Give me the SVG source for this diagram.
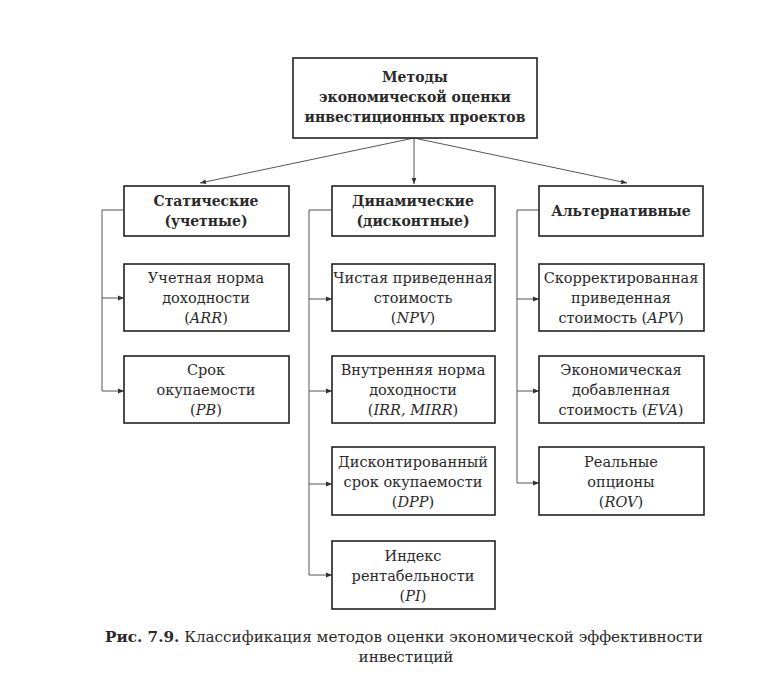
<svg xmlns="http://www.w3.org/2000/svg" width="778" height="678" viewBox="0 0 778 678">
<style>
.box{fill:#fff;stroke:#222;stroke-width:1.6}
.t{font-family:"DejaVu Serif","Liberation Serif",serif;font-size:14.5px;fill:#2a2a2a;text-anchor:middle}
.b{font-weight:bold;font-size:14px}
.i{font-style:italic}
.cap{font-size:15.2px}
.c{fill:none;stroke:#555;stroke-width:1}
</style>
<defs>
<marker id="ah" viewBox="0 0 10 10" refX="10" refY="5" markerWidth="8" markerHeight="6" markerUnits="userSpaceOnUse" orient="auto">
<path d="M0,1 L10,5 L0,9 Z" fill="#333"/>
</marker>
</defs>
<rect width="778" height="678" fill="#fff"/>
<g id="connectors">
<line class="c" x1="414" y1="138" x2="200" y2="183" marker-end="url(#ah)"/>
<line class="c" x1="414" y1="138" x2="414" y2="184" marker-end="url(#ah)"/>
<line class="c" x1="414" y1="138" x2="627" y2="183" marker-end="url(#ah)"/>
<path class="c" d="M124,210 H102 V391"/>
<line class="c" x1="102" y1="298" x2="124" y2="298" marker-end="url(#ah)"/>
<line class="c" x1="102" y1="391" x2="124" y2="391" marker-end="url(#ah)"/>
<path class="c" d="M332,210 H309 V575"/>
<line class="c" x1="309" y1="299" x2="332" y2="299" marker-end="url(#ah)"/>
<line class="c" x1="309" y1="391" x2="332" y2="391" marker-end="url(#ah)"/>
<line class="c" x1="309" y1="484" x2="332" y2="484" marker-end="url(#ah)"/>
<line class="c" x1="309" y1="575" x2="332" y2="575" marker-end="url(#ah)"/>
<path class="c" d="M539,210 H517 V483"/>
<line class="c" x1="517" y1="299" x2="539" y2="299" marker-end="url(#ah)"/>
<line class="c" x1="517" y1="391" x2="539" y2="391" marker-end="url(#ah)"/>
<line class="c" x1="517" y1="483" x2="539" y2="483" marker-end="url(#ah)"/>
</g>
<g id="root">
<rect class="box" x="293" y="58" width="244" height="80"/>
<text class="t b" x="415" y="82">Методы</text>
<text class="t b" x="415" y="102">экономической оценки</text>
<text class="t b" x="415" y="122">инвестиционных проектов</text>
</g>
<g id="static">
<rect class="box" x="124" y="186" width="165" height="50"/>
<text class="t b" x="206" y="206">Статические</text>
<text class="t b" x="206" y="226">(учетные)</text>
</g>
<g id="dynamic">
<rect class="box" x="332" y="186" width="163" height="50"/>
<text class="t b" x="413" y="206">Динамические</text>
<text class="t b" x="413" y="226">(дисконтные)</text>
</g>
<g id="alt">
<rect class="box" x="539" y="186" width="164" height="50"/>
<text class="t b" x="621" y="216">Альтернативные</text>
</g>
<g id="arr">
<rect class="box" x="124" y="264" width="165" height="67"/>
<text class="t" x="206" y="283">Учетная норма</text>
<text class="t" x="206" y="303">доходности</text>
<text class="t" x="206" y="323">(<tspan class="i">ARR</tspan>)</text>
</g>
<g id="pb">
<rect class="box" x="124" y="356" width="165" height="67"/>
<text class="t" x="206" y="375">Срок</text>
<text class="t" x="206" y="395">окупаемости</text>
<text class="t" x="206" y="415">(<tspan class="i">PB</tspan>)</text>
</g>
<g id="npv">
<rect class="box" x="332" y="264" width="163" height="67"/>
<text class="t" x="413" y="283">Чистая приведенная</text>
<text class="t" x="413" y="303">стоимость</text>
<text class="t" x="413" y="323">(<tspan class="i">NPV</tspan>)</text>
</g>
<g id="irr">
<rect class="box" x="332" y="356" width="163" height="67"/>
<text class="t" x="413" y="375">Внутренняя норма</text>
<text class="t" x="413" y="395">доходности</text>
<text class="t" x="413" y="415">(<tspan class="i">IRR, MIRR</tspan>)</text>
</g>
<g id="dpp">
<rect class="box" x="332" y="447" width="163" height="68"/>
<text class="t" x="413" y="467">Дисконтированный</text>
<text class="t" x="413" y="487">срок окупаемости</text>
<text class="t" x="413" y="507">(<tspan class="i">DPP</tspan>)</text>
</g>
<g id="pi">
<rect class="box" x="332" y="541" width="163" height="68"/>
<text class="t" x="413" y="561">Индекс</text>
<text class="t" x="413" y="581">рентабельности</text>
<text class="t" x="413" y="601">(<tspan class="i">PI</tspan>)</text>
</g>
<g id="apv">
<rect class="box" x="539" y="264" width="165" height="67"/>
<text class="t" x="621" y="283">Скорректированная</text>
<text class="t" x="621" y="303">приведенная</text>
<text class="t" x="621" y="323">стоимость (<tspan class="i">APV</tspan>)</text>
</g>
<g id="eva">
<rect class="box" x="539" y="356" width="165" height="67"/>
<text class="t" x="621" y="375">Экономическая</text>
<text class="t" x="621" y="395">добавленная</text>
<text class="t" x="621" y="415">стоимость (<tspan class="i">EVA</tspan>)</text>
</g>
<g id="rov">
<rect class="box" x="539" y="447" width="165" height="68"/>
<text class="t" x="621" y="467">Реальные</text>
<text class="t" x="621" y="487">опционы</text>
<text class="t" x="621" y="507">(<tspan class="i">ROV</tspan>)</text>
</g>
<g id="caption">
<text class="t cap" x="404" y="642"><tspan font-weight="bold">Рис. 7.9.</tspan> Классификация методов оценки экономической эффективности</text>
<text class="t cap" x="406" y="662">инвестиций</text>
</g>
</svg>
